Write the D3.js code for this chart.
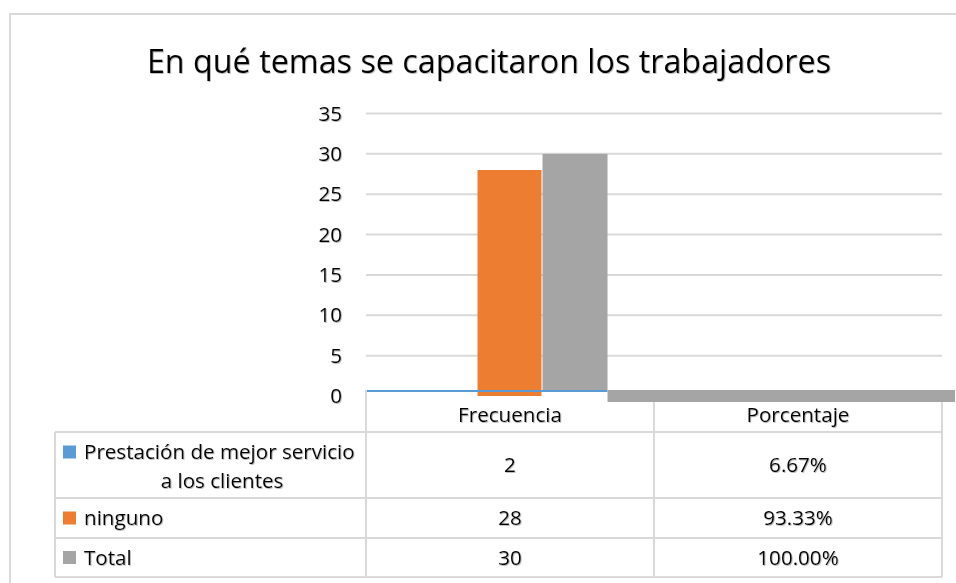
<!DOCTYPE html>
<html>
<head>
	<meta charset="utf-8">
	<title>En qué temas se capacitaron los trabajadores</title>
	<script src="https://d3js.org/d3.v7.min.js"></script>
	<style>
		body { margin: 0; background: #fff; }
		text { font-family: "Open Sans", Lato, sans-serif; fill: #000; filter: url(#soft); }
	</style>
</head>
<body>
<svg width="956" height="583"></svg>

<script type="text/javascript">
var categories = ["Frecuencia", "Porcentaje"];
var seriesNames = ["Prestación de mejor servicio a los clientes", "ninguno", "Total"];
var frecuencia = [2, 28, 30];
var porcentaje = [0.0667, 0.9333, 1.0];
var yTicks = [0, 5, 10, 15, 20, 25, 30, 35];
var colors = ["#5b9bd5", "#ed7d31", "#a5a5a5"];

var svg = d3.select("svg");

var plotLeft = 366, plotRight = 942;
var tableLeft = 55;
var headerTop = 390, headerBottom = 432;
var rowBottoms = [498, 538, 577];
var fs = "20.6px";

// slight grey halo like the original text
svg.append("defs").append("filter")
	.attr("id", "soft")
	.append("feDropShadow")
	.attr("dx", 0.8)
	.attr("dy", 0.8)
	.attr("stdDeviation", 0.7)
	.attr("flood-color", "#777")
	.attr("flood-opacity", 0.6);

// outer chart border
svg.append("path")
	.attr("d", "M10,583 V14 H956")
	.attr("fill", "none")
	.attr("stroke", "#d9d9d9")
	.attr("stroke-width", 2);

svg.append("text")
	.attr("x", 489)
	.attr("y", 73)
	.attr("text-anchor", "middle")
	.style("font-size", "32.3px")
	.text("En qué temas se capacitaron los trabajadores");

var x = d3.scaleBand().domain(categories).range([plotLeft, plotRight]);
var xs = d3.scaleBand().domain(seriesNames).range([0, x.bandwidth()])
	.paddingInner(0).paddingOuter(0.715);
var y = d3.scaleLinear().domain([0, 35]).range([396, 113.5]);

// gridlines
svg.selectAll("line.grid")
	.data(yTicks.filter(function(d) { return d > 0; }))
	.enter()
	.append("line")
	.attr("class", "grid")
	.attr("x1", plotLeft)
	.attr("x2", plotRight)
	.attr("y1", function(d) { return y(d); })
	.attr("y2", function(d) { return y(d); })
	.attr("stroke", "#d9d9d9")
	.attr("stroke-width", 2);

svg.selectAll("text.tick")
	.data(yTicks)
	.enter()
	.append("text")
	.attr("class", "tick")
	.attr("x", 342)
	.attr("y", function(d) { return y(d); })
	.attr("dy", "0.35em")
	.attr("text-anchor", "end")
	.style("font-size", fs)
	.text(function(d) { return d; });

// table header cells (white) sit over the bottom of the plot
svg.append("rect")
	.attr("x", plotLeft)
	.attr("y", headerTop)
	.attr("width", plotRight - plotLeft)
	.attr("height", headerBottom - headerTop)
	.attr("fill", "#fff");

var totalEnd = x("Frecuencia") + xs(seriesNames[2]) + xs.bandwidth();

// ninguno bar reaches the zero line
svg.append("rect")
	.attr("x", x("Frecuencia") + xs(seriesNames[1]))
	.attr("y", y(frecuencia[1]))
	.attr("width", xs.bandwidth() - 1)
	.attr("height", y(0) - y(frecuencia[1]))
	.attr("fill", colors[1]);

// Total bar stops at the header top
svg.append("rect")
	.attr("x", x("Frecuencia") + xs(seriesNames[2]))
	.attr("y", y(frecuencia[2]))
	.attr("width", xs.bandwidth())
	.attr("height", headerTop - y(frecuencia[2]))
	.attr("fill", colors[2]);

// the small blue series shows only as a thin strip on the baseline
svg.append("line")
	.attr("x1", plotLeft)
	.attr("x2", totalEnd)
	.attr("y1", headerTop + 1)
	.attr("y2", headerTop + 1)
	.attr("stroke", colors[0])
	.attr("stroke-width", 2);

// Porcentaje Total drawn as a flat band
svg.append("rect")
	.attr("x", totalEnd)
	.attr("y", headerTop)
	.attr("width", 955 - totalEnd)
	.attr("height", 12 * porcentaje[2])
	.attr("fill", colors[2]);

// data table grid
var hLines = [headerBottom].concat(rowBottoms);
svg.selectAll("line.hrow")
	.data(hLines)
	.enter()
	.append("line")
	.attr("x1", tableLeft)
	.attr("x2", plotRight)
	.attr("y1", function(d) { return d; })
	.attr("y2", function(d) { return d; })
	.attr("stroke", "#d9d9d9")
	.attr("stroke-width", 2);

var vLines = [
	{ x: tableLeft, top: headerBottom },
	{ x: plotLeft, top: headerTop },
	{ x: x("Porcentaje"), top: headerTop + 12 },
	{ x: plotRight, top: headerTop + 12 }
];
svg.selectAll("line.vcol")
	.data(vLines)
	.enter()
	.append("line")
	.attr("x1", function(d) { return d.x; })
	.attr("x2", function(d) { return d.x; })
	.attr("y1", function(d) { return d.top; })
	.attr("y2", rowBottoms[2])
	.attr("stroke", "#d9d9d9")
	.attr("stroke-width", 2);

svg.selectAll("text.cat")
	.data(categories)
	.enter()
	.append("text")
	.attr("x", function(d) { return x(d) + x.bandwidth() / 2; })
	.attr("y", 415)
	.attr("dy", "0.35em")
	.attr("text-anchor", "middle")
	.style("font-size", fs)
	.text(function(d) { return d; });

var rowTops = [headerBottom].concat(rowBottoms.slice(0, 2));
var rowMid = rowTops.map(function(t, i) { return (t + rowBottoms[i]) / 2; });

// legend keys
svg.selectAll("rect.key")
	.data(seriesNames)
	.enter()
	.append("rect")
	.attr("x", 63)
	.attr("y", function(d, i) { return (i === 0 ? 452 : rowMid[i]) - 6.5; })
	.attr("width", 13)
	.attr("height", 13)
	.attr("fill", function(d, i) { return colors[i]; });

// first series name wraps over two lines
svg.append("text")
	.attr("x", 84)
	.attr("y", 452)
	.attr("dy", "0.35em")
	.style("font-size", fs)
	.text("Prestación de mejor servicio");
svg.append("text")
	.attr("x", 222)
	.attr("y", 481)
	.attr("dy", "0.35em")
	.attr("text-anchor", "middle")
	.style("font-size", fs)
	.text("a los clientes");

svg.selectAll("text.sname")
	.data(seriesNames.slice(1))
	.enter()
	.append("text")
	.attr("x", 84)
	.attr("y", function(d, i) { return rowMid[i + 1]; })
	.attr("dy", "0.35em")
	.style("font-size", fs)
	.text(function(d) { return d; });

var pct = d3.format(".2%");
svg.selectAll("text.freq")
	.data(frecuencia)
	.enter()
	.append("text")
	.attr("x", x("Frecuencia") + x.bandwidth() / 2)
	.attr("y", function(d, i) { return rowMid[i]; })
	.attr("dy", "0.35em")
	.attr("text-anchor", "middle")
	.style("font-size", fs)
	.text(function(d) { return d; });

svg.selectAll("text.pct")
	.data(porcentaje)
	.enter()
	.append("text")
	.attr("x", x("Porcentaje") + x.bandwidth() / 2)
	.attr("y", function(d, i) { return rowMid[i]; })
	.attr("dy", "0.35em")
	.attr("text-anchor", "middle")
	.style("font-size", fs)
	.text(function(d) { return pct(d); });
</script>

</body>
</html>
